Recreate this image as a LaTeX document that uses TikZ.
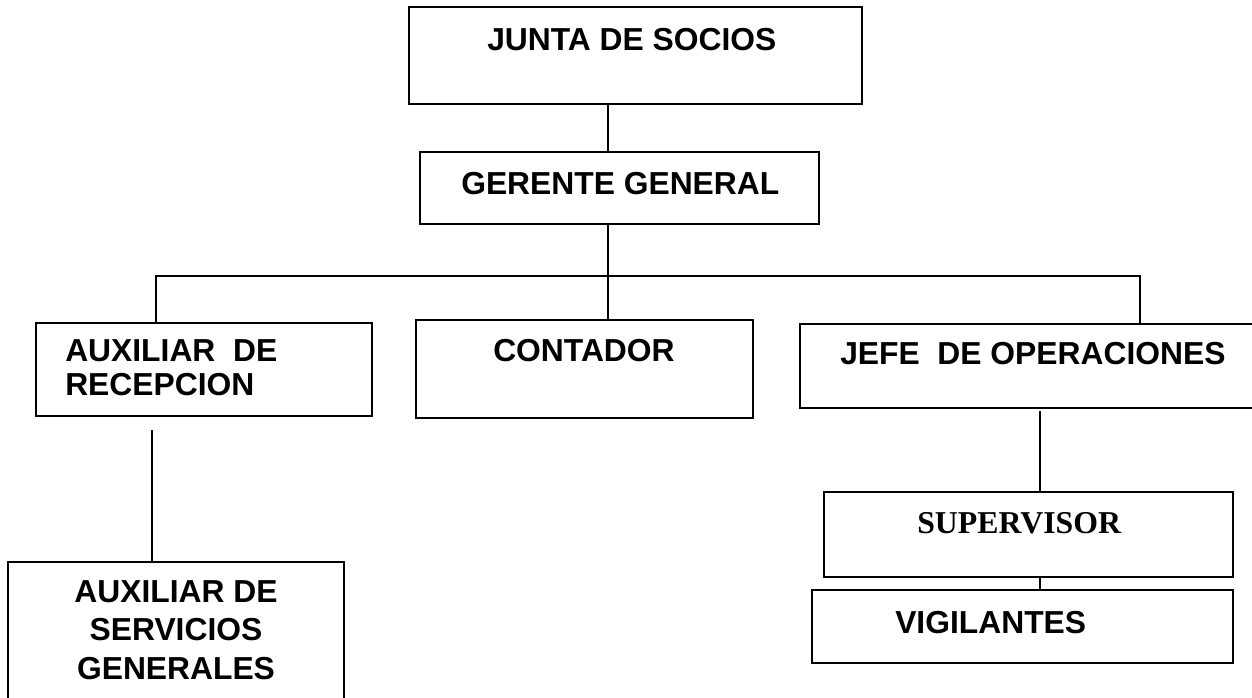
\documentclass[tikz,border=0pt]{standalone}
\usepackage{fontspec}
\setmainfont{Liberation Sans}
\newfontfamily\timesb{Liberation Serif}
\usetikzlibrary{fit}
\begin{document}
\begin{tikzpicture}[x=0.75pt,y=-0.75pt,
  box/.style={draw=black,line width=1.4pt,inner sep=0pt},
  conn/.style={draw=black,line width=1.4pt},
  lbl/.style={inner sep=0pt,font=\bfseries\fontsize{23.85}{28}\selectfont},
  lblserif/.style={inner sep=0pt,font=\timesb\bfseries\fontsize{23.85}{28}\selectfont}]
\useasboundingbox (0,0) rectangle (1252,698);
\clip (0,0) rectangle (1252,698);
% boxes
\node[box,fit={(409,7) (862,104)}] (junta) {};
\node[box,fit={(420,152) (819,224)}] (gerente) {};
\node[box,fit={(36,323) (372,416)}] (recep) {};
\node[box,fit={(416,320) (753,418)}] (contador) {};
\node[box,fit={(800,324) (1262,408)}] (jefe) {};
\node[box,fit={(824,492) (1233,577)}] (super) {};
\node[box,fit={(812,590) (1233,663)}] (vigil) {};
\node[box,fit={(8,562) (344,712)}] (servicios) {};
% texts
\node[lbl,anchor=base west] (tjunta) at (487,51) {JUNTA DE SOCIOS};
\node[lbl,anchor=base west] (tgerente) at (461,195) {GERENTE GENERAL};
\node[lbl,anchor=base west] (trecep1) at (65,362) {AUXILIAR\ \ DE};
\node[lbl,anchor=base west] (trecep2) at (65,395) {RECEPCION};
\node[lbl,anchor=base west] (tcontador) at (493,362) {CONTADOR};
\node[lbl,anchor=base west] (tjefe) at (840,364) {JEFE\ \ DE OPERACIONES};
\node[lblserif,anchor=base west] (tsuper) at (917,533) {SUPERVISOR};
\node[lbl,anchor=base west] (tvigil) at (895,633) {VIGILANTES};
\node[lbl,anchor=base] (tserv1) at (176,602) {AUXILIAR DE};
\node[lbl,anchor=base] (tserv2) at (176,640) {SERVICIOS};
\node[lbl,anchor=base] (tserv3) at (176,679) {GENERALES};
% connectors
\coordinate (busL) at (156,276);
\coordinate (busM) at (608,276);
\coordinate (busR) at (1140,276);
\coordinate (recepdown) at (152,430);
\coordinate (jefedown) at (1040,411);
\draw[conn] (junta.south -| busM) -- (gerente.north -| busM);
\draw[conn] (gerente.south -| busM) -- (busM);
\draw[conn] (busL |- recep.north) -- (busL) -- (busR) -- (busR |- jefe.north);
\draw[conn] (busM) -- (contador.north -| busM);
\draw[conn] (recepdown) -- (recepdown |- servicios.north);
\draw[conn] (jefedown) -- (jefedown |- super.north);
\draw[conn] (super.south -| jefedown) -- (vigil.north -| jefedown);
\end{tikzpicture}
\end{document}
